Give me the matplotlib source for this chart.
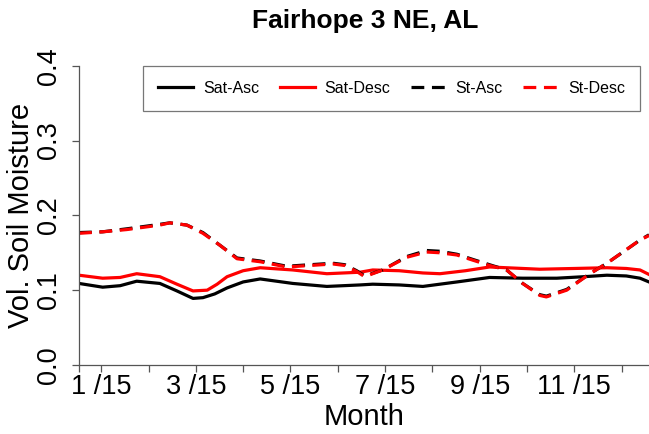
import numpy as np
import matplotlib
matplotlib.use("Agg")
import matplotlib.pyplot as plt

plt.rcParams['font.family'] = ['Liberation Sans', 'DejaVu Sans']

# months (fractional, 1 = Jan 15) and volumetric soil moisture
sat_asc_month = [0.53, 1.03, 1.40, 1.75, 2.24, 2.60, 2.94, 3.15, 3.40, 3.66, 4.00, 4.36,
                 5.05, 5.77, 6.47, 6.74, 7.30, 7.80, 8.52, 9.21, 9.91, 10.63, 11.20,
                 11.69, 12.10, 12.39, 12.58]
sat_asc = [0.109, 0.104, 0.106, 0.112, 0.109, 0.099, 0.089, 0.090, 0.095, 0.103, 0.111,
           0.115, 0.109, 0.105, 0.107, 0.108, 0.107, 0.105, 0.111, 0.117, 0.116, 0.116,
           0.118, 0.120, 0.119, 0.116, 0.111]

sat_desc_month = [0.53, 1.03, 1.40, 1.75, 2.24, 2.60, 2.94, 3.24, 3.45, 3.66, 4.00, 4.36,
                  5.05, 5.77, 6.47, 6.74, 7.30, 7.80, 8.16, 8.70, 9.21, 10.27, 11.00,
                  11.69, 12.10, 12.39, 12.58]
sat_desc = [0.120, 0.116, 0.117, 0.122, 0.118, 0.108, 0.099, 0.100, 0.108, 0.118, 0.126,
            0.130, 0.127, 0.122, 0.124, 0.127, 0.126, 0.123, 0.122, 0.126, 0.131, 0.128,
            0.129, 0.130, 0.129, 0.127, 0.121]

st_month = [0.53, 1.03, 1.54, 2.24, 2.45, 2.81, 3.15, 3.51, 3.87, 4.36, 4.92, 5.41, 5.90,
            6.15, 6.40, 6.57, 6.95, 7.46, 7.88, 8.16, 8.52, 8.86, 9.21, 9.57, 9.91, 10.27,
            10.41, 10.84, 11.33, 11.69, 12.03, 12.39, 12.58]
st_asc = [0.177, 0.178, 0.182, 0.188, 0.190, 0.187, 0.177, 0.160, 0.143, 0.139, 0.132,
          0.134, 0.136, 0.134, 0.126, 0.119, 0.127, 0.145, 0.153, 0.152, 0.148, 0.141,
          0.134, 0.127, 0.109, 0.094, 0.092, 0.101, 0.122, 0.136, 0.151, 0.167, 0.174]
st_desc = [0.176, 0.178, 0.181, 0.187, 0.190, 0.187, 0.176, 0.160, 0.142, 0.138, 0.131,
           0.133, 0.135, 0.133, 0.125, 0.118, 0.127, 0.144, 0.151, 0.150, 0.147, 0.140,
           0.133, 0.127, 0.109, 0.093, 0.091, 0.100, 0.122, 0.136, 0.151, 0.167, 0.173]

tick_pos = [0.53] + list(range(1, 13))
label_pos = [1, 3, 5, 7, 9, 11]
label_txt = ["1 /15", "3 /15", "5 /15", "7 /15", "9 /15", "11 /15"]

fig = plt.figure(figsize=(6.49, 4.34), dpi=100)
ax = fig.add_axes([79 / 649, 69 / 434, 570 / 649, 299.3 / 434])

dash = (0, (4, 2.4))
ax.plot(sat_asc_month, sat_asc, color='black', lw=2.3, label='Sat-Asc')
ax.plot(sat_desc_month, sat_desc, color='red', lw=2.3, label='Sat-Desc')
ax.plot(st_month, st_asc, color='black', lw=2.3, ls=dash, label='St-Asc')
ax.plot(st_month, st_desc, color='red', lw=2.3, ls=dash, label='St-Desc')

ax.set_xlim(0.53, 12.58)
ax.set_ylim(0, 0.4)

for s in ['top', 'right']:
    ax.spines[s].set_visible(False)
for s in ['left', 'bottom']:
    ax.spines[s].set_color('#555555')
    ax.spines[s].set_linewidth(0.9)

ax.set_xticks(tick_pos)
ax.set_xticklabels(["" if p not in label_pos else label_txt[label_pos.index(p)] for p in tick_pos])
ax.set_yticks([0, 0.1, 0.2, 0.3, 0.4])
ax.set_yticklabels(["0.0", "0.1", "0.2", "0.3", "0.4"])
ax.tick_params(axis='both', direction='out', length=5, width=0.9, color='#555555',
               labelsize=19.5)
ax.tick_params(axis='x', pad=1.5)
ax.tick_params(axis='y', pad=7)
for lab in ax.get_yticklabels():
    lab.set_rotation(90)
    lab.set_va('center')

ax.set_xlabel("Month", fontsize=21, labelpad=2)
ax.set_ylabel("Vol. Soil Moisture", fontsize=21, labelpad=1)
fig.text(365 / 649, 1 - 28 / 434, "Fairhope 3 NE, AL", fontsize=19, fontweight='bold',
         ha='center', va='baseline')

leg = ax.legend(loc='upper left', ncol=4, bbox_to_anchor=(64 / 570, 1.0, 497 / 570, 0),
                mode='expand', frameon=True, fancybox=False, fontsize=11.5,
                handlelength=2.2, handletextpad=0.6, columnspacing=1.0, borderaxespad=0,
                borderpad=0.95)
leg.get_frame().set_edgecolor('#555555')
leg.get_frame().set_linewidth(0.9)

fig.savefig("out.png", dpi=100)
